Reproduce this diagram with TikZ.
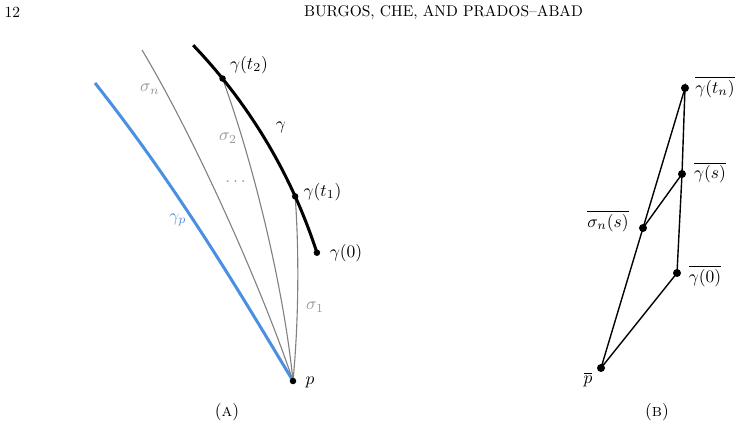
\documentclass[tikz,border=0pt]{standalone}
\usepackage{graphicx}
\usepackage{amsmath}
\usetikzlibrary{calc}
\definecolor{gpblue}{RGB}{74,144,226}
\definecolor{sgray}{RGB}{128,128,128}
\definecolor{lgray}{RGB}{150,150,150}
\newcommand{\lbltext}[1]{\scalebox{1.75}{#1}}
\newcommand{\hdrtext}[1]{\scalebox{1.55}{#1}}
\begin{document}
\begin{tikzpicture}[x=1pt,y=1pt,
  lbl/.style={inner sep=0pt},
  glbl/.style={lbl, text=lgray},
  hdr/.style={inner sep=0pt},
  geo/.style={draw=sgray, line width=1.1pt},
  gcurve/.style={draw=black, line width=3pt},
  gpcurve/.style={draw=gpblue, line width=3pt},
  dotA/.style={circle, fill=black, inner sep=0pt, minimum size=6.5pt},
  dotB/.style={circle, fill=black, inner sep=0pt, minimum size=8pt},
  segB/.style={draw=black, line width=1.4pt}]
\useasboundingbox (0,0) rectangle (743,428);
% header
\node[hdr] (pg) at (12.5,416) {\hdrtext{12}};
\node[hdr, anchor=base] (rh) at (443.5,411) {\hdrtext{BURGOS, CHE, AND PRADOS--ABAD}};
% ---------- panel A ----------
\coordinate (gc) at (-197.9,9.0);
\coordinate (gs) at ($(gc)+(43.7:541)$);
\coordinate (g2) at ($(gc)+(39.0:541)$);
\coordinate (g1) at ($(gc)+(24.3:541)$);
\coordinate (g0) at ($(gc)+(17.9:541)$);
\coordinate (p) at (293,47);
\coordinate (bs) at (95,345);
\coordinate (sn) at (142,378);
\draw[gpcurve] (bs) .. controls (174,245) and (233,147) .. (p);
\draw[geo] (sn) .. controls (196,288) and (263,137) .. (p);
\draw[geo] (g2) .. controls (255,260) and (284,137) .. (p);
\draw[geo] (g1) .. controls (299,180) and (299,110) .. (p);
\draw[gcurve] (gs) arc[start angle=43.7, end angle=17.9, radius=541];
\node[dotA] (d2) at (g2) {};
\node[dotA] (d1) at (g1) {};
\node[dotA] (d0) at (g0) {};
\node[dotA] (dp) at (p) {};
\node[lbl] (lg2) at (249,363) {\lbltext{$\gamma(t_2)$}};
\node[lbl] (lg1) at (322.5,236) {\lbltext{$\gamma(t_1)$}};
\node[lbl] (lg0) at (346,175) {\lbltext{$\gamma(0)$}};
\node[lbl] (lg) at (281,301) {\lbltext{$\gamma$}};
\node[lbl, text=gpblue] (lgp) at (178,208) {\lbltext{$\gamma_p$}};
\node[glbl] (lsn) at (150,339) {\lbltext{$\sigma_n$}};
\node[glbl] (ls2) at (228,290) {\lbltext{$\sigma_2$}};
\node[glbl] (ls1) at (315,121) {\lbltext{$\sigma_1$}};
\node[glbl, anchor=base] (ldots) at (237,245) {\lbltext{$\dots$}};
\node[lbl] (lp) at (310,46) {\lbltext{$p$}};
\node[lbl] (capA) at (227,16) {\lbltext{(\textsc{a})}};
% ---------- panel B ----------
\node[dotB] (tn) at (685,340) {};
\node[dotB] (s) at (682,254) {};
\node[dotB] (sns) at (643,200) {};
\node[dotB] (b0) at (677,155) {};
\node[dotB] (pb) at (601,60) {};
\draw[segB] (pb.center) -- (sns.center) -- (tn.center) -- (s.center) -- (b0.center) -- (pb.center);
\draw[segB] (sns.center) -- (s.center);
\node[lbl] (ltn) at (715,341) {\lbltext{$\overline{\gamma(t_n)}$}};
\node[lbl] (ls) at (710,255.5) {\lbltext{$\overline{\gamma(s)}$}};
\node[lbl] (lsns) at (608,207) {\lbltext{$\overline{\sigma_n(s)}$}};
\node[lbl] (lb0) at (705,152) {\lbltext{$\overline{\gamma(0)}$}};
\node[lbl] (lpb) at (588,48) {\lbltext{$\overline{p}$}};
\node[lbl] (capB) at (657,16) {\lbltext{(\textsc{b})}};
\end{tikzpicture}
\end{document}
